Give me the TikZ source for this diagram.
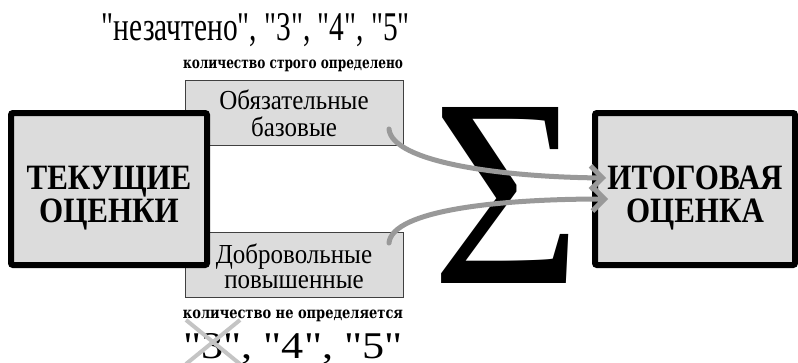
\documentclass[tikz,border=0pt]{standalone}
\usepackage{fontspec}
\setmainfont{Liberation Serif}
\newfontfamily\qfont{Liberation Serif}[Ligatures=TeXOff]
\newfontfamily\wideserif{DejaVu Serif}[Ligatures=TeXOff]
\usetikzlibrary{arrows.meta}
\definecolor{boxfill}{HTML}{DCDCDC}
\definecolor{arrowgray}{HTML}{999999}
\definecolor{crossgray}{HTML}{C4C4C4}
\newcommand\vstretch[3][1.15]{\raisebox{#2}[0pt][0pt]{\scalebox{1}[#1]{\begin{tabular}{@{}c@{}}#3\end{tabular}}}}
\begin{document}
\begin{tikzpicture}[x=1pt,y=-1pt,
  mainbox/.style={draw=black, line width=6pt, fill=boxfill, rounded corners=2pt,
    minimum width=196pt, minimum height=152pt, inner sep=0pt, align=center,
    font=\fontsize{31}{28}\selectfont\bfseries},
  subbox/.style={draw=black!75, line width=0.8pt, fill=boxfill,
    minimum width=218pt, minimum height=65pt, inner sep=0pt, align=center,
    font=\fontsize{25}{23}\selectfont},
  smalllabel/.style={inner sep=0pt, font=\wideserif\bfseries},
  flow/.style={draw=arrowgray, line width=5pt, line cap=round,
    -{Straight Barb[length=12pt,width=24pt,line width=5pt]}},
  cross/.style={draw=crossgray, line width=4pt}]
\useasboundingbox (0,0) rectangle (798,362);
% sub boxes
\node[subbox] (mand) at (294,112.5) {\vstretch[1.1]{-11pt}{Обязательные\\базовые}};
\node[subbox] (vol) at (294,265) {\vstretch[1.1]{-12pt}{Добровольные\\повышенные}};
% main boxes
\node[mainbox] (cur) at (109,189) {\vstretch{-17pt}{ТЕКУЩИЕ\\ОЦЕНКИ}};
\node[mainbox, minimum width=200pt] (res) at (695,189) {\vstretch{-17pt}{ИТОГОВАЯ\\ОЦЕНКА}};
% sigma
\node[inner sep=0pt] (sigma) at (506.5,195) {\resizebox{150pt}{176pt}{Σ}};
% top labels
\node[inner sep=0pt, anchor=base] (toplist) at (256,40)
  {\resizebox{308pt}{27pt}{\qfont "незачтено", "3", "4", "5"}};
\node[smalllabel, anchor=base] (topnote) at (293,68)
  {\resizebox{220pt}{8.5pt}{количество строго определено}};
% bottom labels
\node[smalllabel, anchor=base] (botnote) at (293,318)
  {\resizebox{220pt}{8.5pt}{количество не определяется}};
\node[inner sep=0pt, anchor=base] (botlist) at (293,358)
  {\resizebox{219pt}{25pt}{\qfont "3", "4", "5"}};
% cross over the 3
\coordinate (xa) at (186,320);
\coordinate (xb) at (240,364);
\coordinate (xc) at (240,320);
\coordinate (xd) at (186,364);
\draw[cross] (xa) -- (xb);
\draw[cross] (xc) -- (xd);
% arrows
\coordinate (s1) at (389,129);
\coordinate (t1) at (606,178);
\coordinate (s2) at (389,243);
\coordinate (t2) at (608,199);
\draw[flow] (s1) .. controls (392,162) and (500,177) .. (t1);
\draw[flow] (s2) .. controls (392,210) and (500,199) .. (t2);
\end{tikzpicture}
\end{document}
